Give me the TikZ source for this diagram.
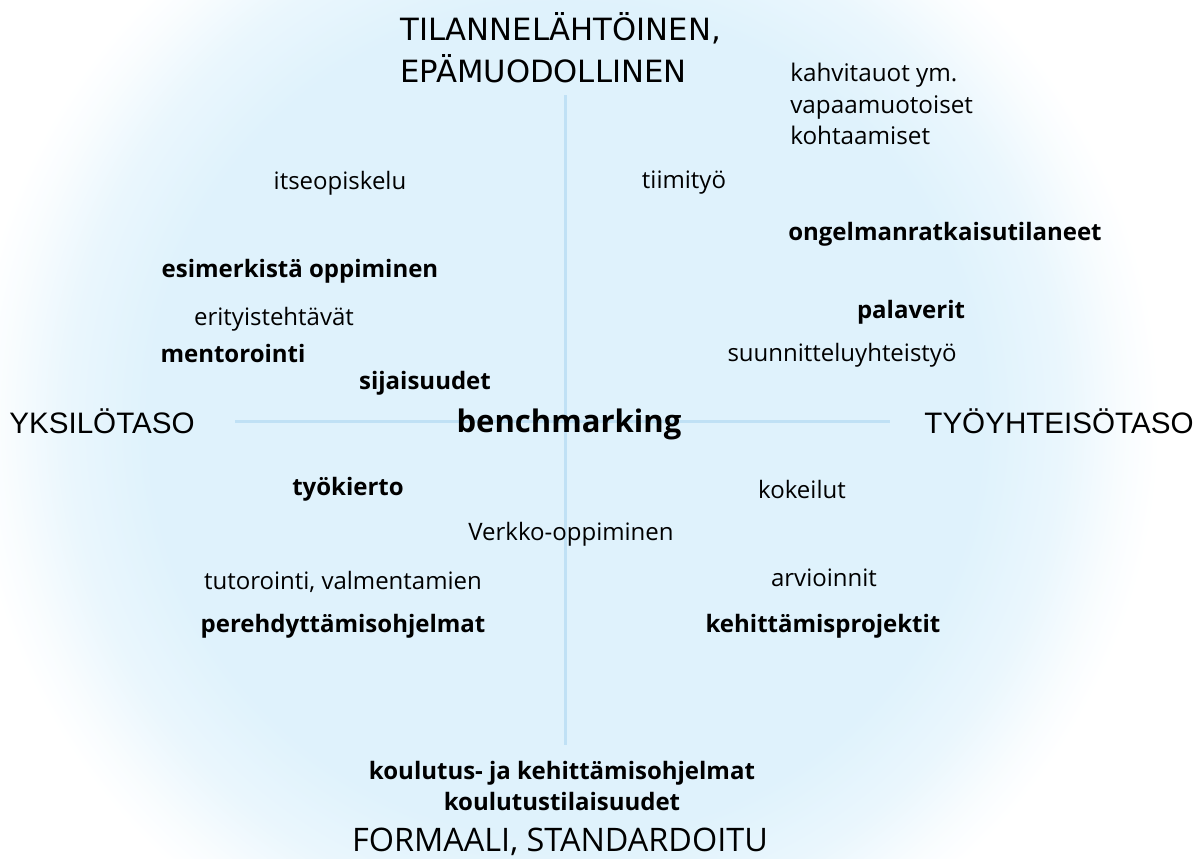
\documentclass[tikz,border=0pt]{standalone}
\usepackage{fontspec}
\setmainfont{Open Sans}
\newfontfamily\titlefont{DejaVu Sans}
\newfontfamily\levelfont{Liberation Sans}
\usetikzlibrary{backgrounds}

\definecolor{haloblue}{HTML}{DFF2FC}
\definecolor{axisblue}{HTML}{C0E1F5}
\pgfdeclareradialshading{halo}{\pgfpointorigin}{color(0bp)=(haloblue); color(17.5bp)=(haloblue);
  color(21bp)=(haloblue!65!white); color(23.5bp)=(haloblue!20!white); color(25bp)=(white); color(50bp)=(white)}

\begin{document}
\begin{tikzpicture}[x=0.75pt, y=-0.75pt,
    item/.style={inner sep=0pt, font=\fontsize{18}{22}\selectfont},
    keyitem/.style={inner sep=0pt, font=\fontsize{18}{22}\selectfont\bfseries},
    level/.style={inner sep=0pt, font=\levelfont\fontsize{22.2}{26}\selectfont},
    axis/.style={axisblue, line width=2.25pt}]
      \useasboundingbox (0,0) rectangle (1204,858);
      \fill [white] (0,0) rectangle (1204,858);
      \begin{scope}
        \clip (0,0) rectangle (1204,858);
        \shade [shading=halo] (565,420) circle (595);
      \end{scope}
      %\draw [help lines, step=50] (0,0) grid (1204,858);

      % axes
      \coordinate (vtop) at (565,95);
      \coordinate (vbot) at (565,745);
      \coordinate (hleft) at (235,421);
      \coordinate (hright) at (890,421);
      \draw [axis] (vtop) -- (vbot);
      \draw [axis] (hleft) -- (hright);

      % axis ends
      \node [anchor=west, align=left, inner sep=0pt,
        font=\titlefont\fontsize{23}{31.5}\selectfont] (informal) at (400,48)
        {TILANNELÄHTÖINEN,\\EPÄMUODOLLINEN};
      \node [level] (yksilo) at (102,421) {YKSILÖTASO};
      \node [level] (tyoyhteiso) at (1059,421) {TYÖYHTEISÖTASO};
      \node [inner sep=0pt, font=\fontsize{24.3}{28}\selectfont] (formal) at (560,842)
        {FORMAALI, STANDARDOITU};

      % upper half
      \node [item, anchor=west, align=left, font=\fontsize{18.2}{23.5}\selectfont]
        (kahvi) at (790,104) {kahvitauot ym.\\vapaamuotoiset\\kohtaamiset};
      \node [item] (itse) at (340,183) {itseopiskelu};
      \node [item] (tiimi) at (684,183) {tiimityö};
      \node [keyitem] (ongelma) at (945,234) {ongelmanratkaisutilaneet};
      \node [keyitem] (esimerkki) at (300,271) {esimerkistä oppiminen};
      \node [item] (erityis) at (274,319) {erityistehtävät};
      \node [keyitem] (palaverit) at (911,312) {palaverit};
      \node [keyitem] (mentor) at (233,353) {mentorointi};
      \node [item] (suunnittelu) at (842,355) {suunnitteluyhteistyö};
      \node [keyitem] (sijais) at (425,383) {sijaisuudet};
      \node [inner sep=0pt, font=\fontsize{23.3}{27}\selectfont\bfseries] (bench) at (569,424) {benchmarking};

      % lower half
      \node [keyitem] (kierto) at (348,489) {työkierto};
      \node [item] (kokeilut) at (802,489) {kokeilut};
      \node [item] (verkko) at (571,534) {Verkko-oppiminen};
      \node [item] (tutor) at (343,582) {tutorointi, valmentamien};
      \node [item] (arviointi) at (824,578) {arvioinnit};
      \node [keyitem] (pereh) at (343,626) {perehdyttämisohjelmat};
      \node [keyitem] (kehitys) at (823,626) {kehittämisprojektit};
      \node [keyitem, align=center, font=\fontsize{18}{23.5}\selectfont\bfseries] (koulutus) at (562,786)
        {koulutus- ja kehittämisohjelmat\\koulutustilaisuudet};
\end{tikzpicture}
\end{document}
